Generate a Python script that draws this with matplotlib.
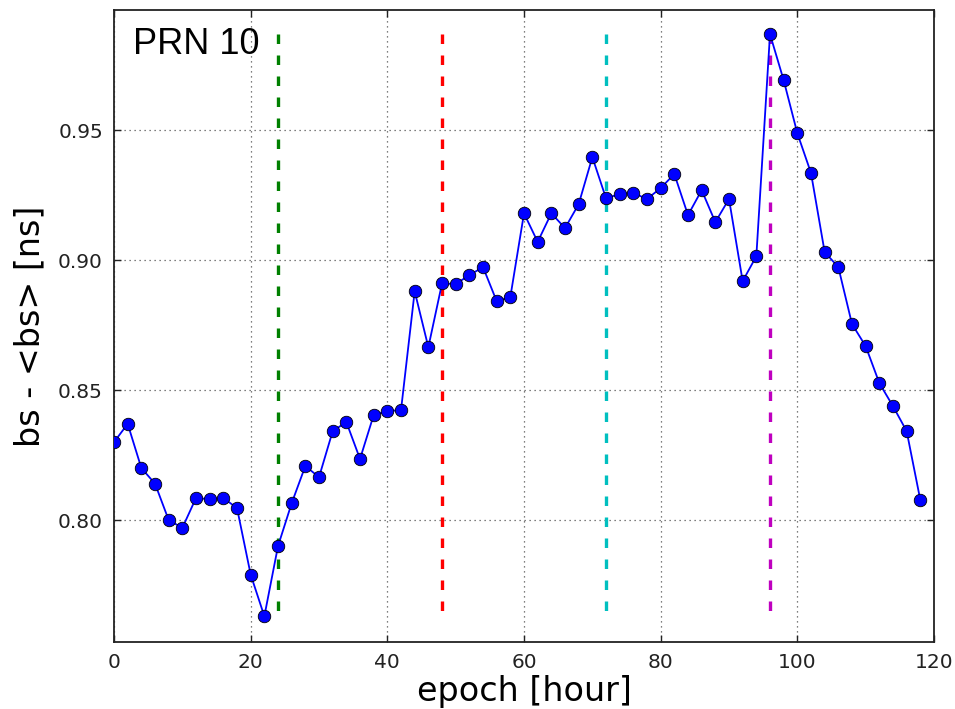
import matplotlib
matplotlib.use('Agg')
import matplotlib.pyplot as plt
import numpy as np

# epoch [hour] and bs - <bs> [ns]
epoch = np.arange(0, 120, 2)
bs = [0.830, 0.837, 0.820, 0.814, 0.800, 0.797, 0.8085, 0.808, 0.8085, 0.8046,
      0.779, 0.763, 0.790, 0.8065, 0.8208, 0.8165, 0.8342, 0.8377, 0.8235, 0.8404,
      0.8419, 0.8423, 0.888, 0.8665, 0.891, 0.8908, 0.8942, 0.8973, 0.8842, 0.8858,
      0.918, 0.907, 0.918, 0.9123, 0.9215, 0.9396, 0.9238, 0.9254, 0.9258, 0.9235,
      0.9277, 0.9331, 0.9173, 0.9269, 0.9146, 0.9235, 0.8919, 0.9015, 0.9869, 0.9692,
      0.9488, 0.9335, 0.9031, 0.8973, 0.8754, 0.8669, 0.8527, 0.8438, 0.8342, 0.8077]

# day boundaries
day_marks = [24, 48, 72, 96]
day_colors = ['g', 'r', 'c', 'm']

fig = plt.figure(figsize=(9.55, 7.09), dpi=100, facecolor='white')
ax = fig.add_axes([0.1194, 0.0945, 0.8586, 0.8914])

ax.plot(epoch, bs, '-', color='b', linewidth=1.3, zorder=3)
ax.plot(epoch, bs, 'o', color='b', markersize=9, markeredgecolor='black',
        markeredgewidth=0.6, zorder=4)

# dashed markers from top (max) down to bottom (min)
for xm, c in zip(day_marks, day_colors):
    ax.plot([xm, xm], [max(bs), min(bs)], color=c, linestyle=(0, (2.85, 3.45)),
            linewidth=2.4, zorder=2)

ax.set_xlim(0, 120)
ax.set_ylim(0.7531, 0.9962)
ax.set_xticks([0, 20, 40, 60, 80, 100, 120])
ax.set_yticks([0.80, 0.85, 0.90, 0.95])
ax.set_yticklabels(['0.80', '0.85', '0.90', '0.95'])

ax.grid(True, linestyle=(0, (1, 3)), color='#555555', linewidth=0.9)
ax.tick_params(direction='in', top=True, right=True, length=5, width=1,
               labelsize=14.5, colors='#222222', pad=8)
for s in ax.spines.values():
    s.set_linewidth(1.3)
    s.set_color('#222222')

ax.set_xlabel('epoch [hour]', fontsize=24, labelpad=2)
ax.set_ylabel('bs - <bs> [ns]', fontsize=24, labelpad=8)

ax.text(0.023, 0.973, 'PRN 10', transform=ax.transAxes, ha='left', va='top',
        fontsize=26, family=['Liberation Sans', 'DejaVu Sans'])

fig.savefig('out.png', dpi=100, facecolor='white')
